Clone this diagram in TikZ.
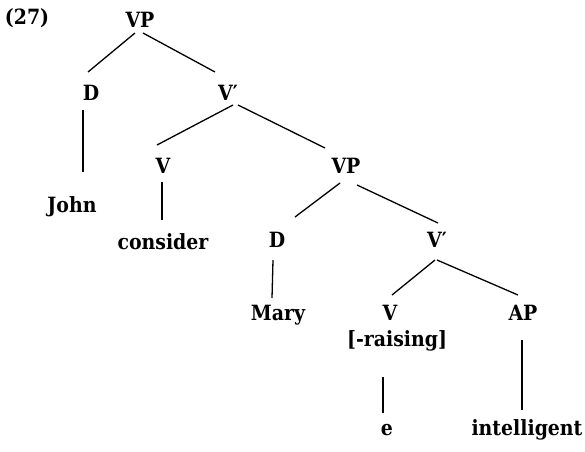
\documentclass[tikz,border=0pt]{standalone}
\usepackage{fontspec}
\setmainfont{DejaVu Serif Condensed}
\begin{document}
\begin{tikzpicture}[x=1pt,y=-1pt,
  lbl/.style={anchor=base,inner sep=0pt,font=\fontsize{21}{26}\selectfont\bfseries},
  branch/.style={line width=1.3pt}]
\useasboundingbox (0,0) rectangle (585,451);
\fill[white] (0,0) rectangle (585,451);
% nodes
\node[lbl] (ex)   at (27,24)  {(27)};
\node[lbl] (vp1)  at (140,27) {VP};
\node[lbl] (d1)   at (91,100) {D};
\node[lbl] (vb1)  at (228,100) {V′};
\node[lbl] (v2)   at (163,173) {V};
\node[lbl] (john) at (72,212) {John};
\node[lbl] (cons) at (163,249) {consider};
\node[lbl] (vp2)  at (346,173) {VP};
\node[lbl] (d2)   at (277,247) {D};
\node[lbl] (vb2)  at (437,247) {V′};
\node[lbl] (mary) at (278,320) {Mary};
\node[lbl] (v3)   at (390,320) {V};
\node[lbl] (ap)   at (523,320) {AP};
\node[lbl] (rais) at (397,346) {[-raising]};
\node[lbl] (e)    at (387,435) {e};
\node[lbl] (intl) at (527,435) {intelligent};
% branches
\draw[branch] ([shift={(-5,6)}]vp1.base) -- ([shift={(-3,-28)}]d1.base);
\draw[branch] ([shift={(3,6)}]vp1.base) -- ([shift={(-13,-28)}]vb1.base);
\draw[branch] ([shift={(-8,10)}]d1.base) -- ([shift={(11,-40)}]john.base);
\draw[branch] ([shift={(5,5)}]vb1.base) -- ([shift={(-6,-28)}]v2.base);
\draw[branch] ([shift={(10,5)}]vb1.base) -- ([shift={(-21,-25)}]vp2.base);
\draw[branch] ([shift={(-1,9)}]v2.base) -- ([shift={(-1,-29)}]cons.base);
\draw[branch] ([shift={(-6,10)}]vp2.base) -- ([shift={(18,-30)}]d2.base);
\draw[branch] ([shift={(11,12)}]vp2.base) -- ([shift={(1,-24)}]vb2.base);
\draw[branch] ([shift={(-4,13)}]d2.base) -- ([shift={(-6,-22)}]mary.base);
\draw[branch] ([shift={(-2,13)}]vb2.base) -- ([shift={(2,-25)}]v3.base);
\draw[branch] ([shift={(0,13)}]vb2.base) -- ([shift={(-5,-25)}]ap.base);
\draw[branch] ([shift={(-14,31)}]rais.base) -- ([shift={(-4,-22)}]e.base);
\draw[branch] ([shift={(-1,20)}]ap.base) -- ([shift={(-5,-25)}]intl.base);
\end{tikzpicture}
\end{document}
